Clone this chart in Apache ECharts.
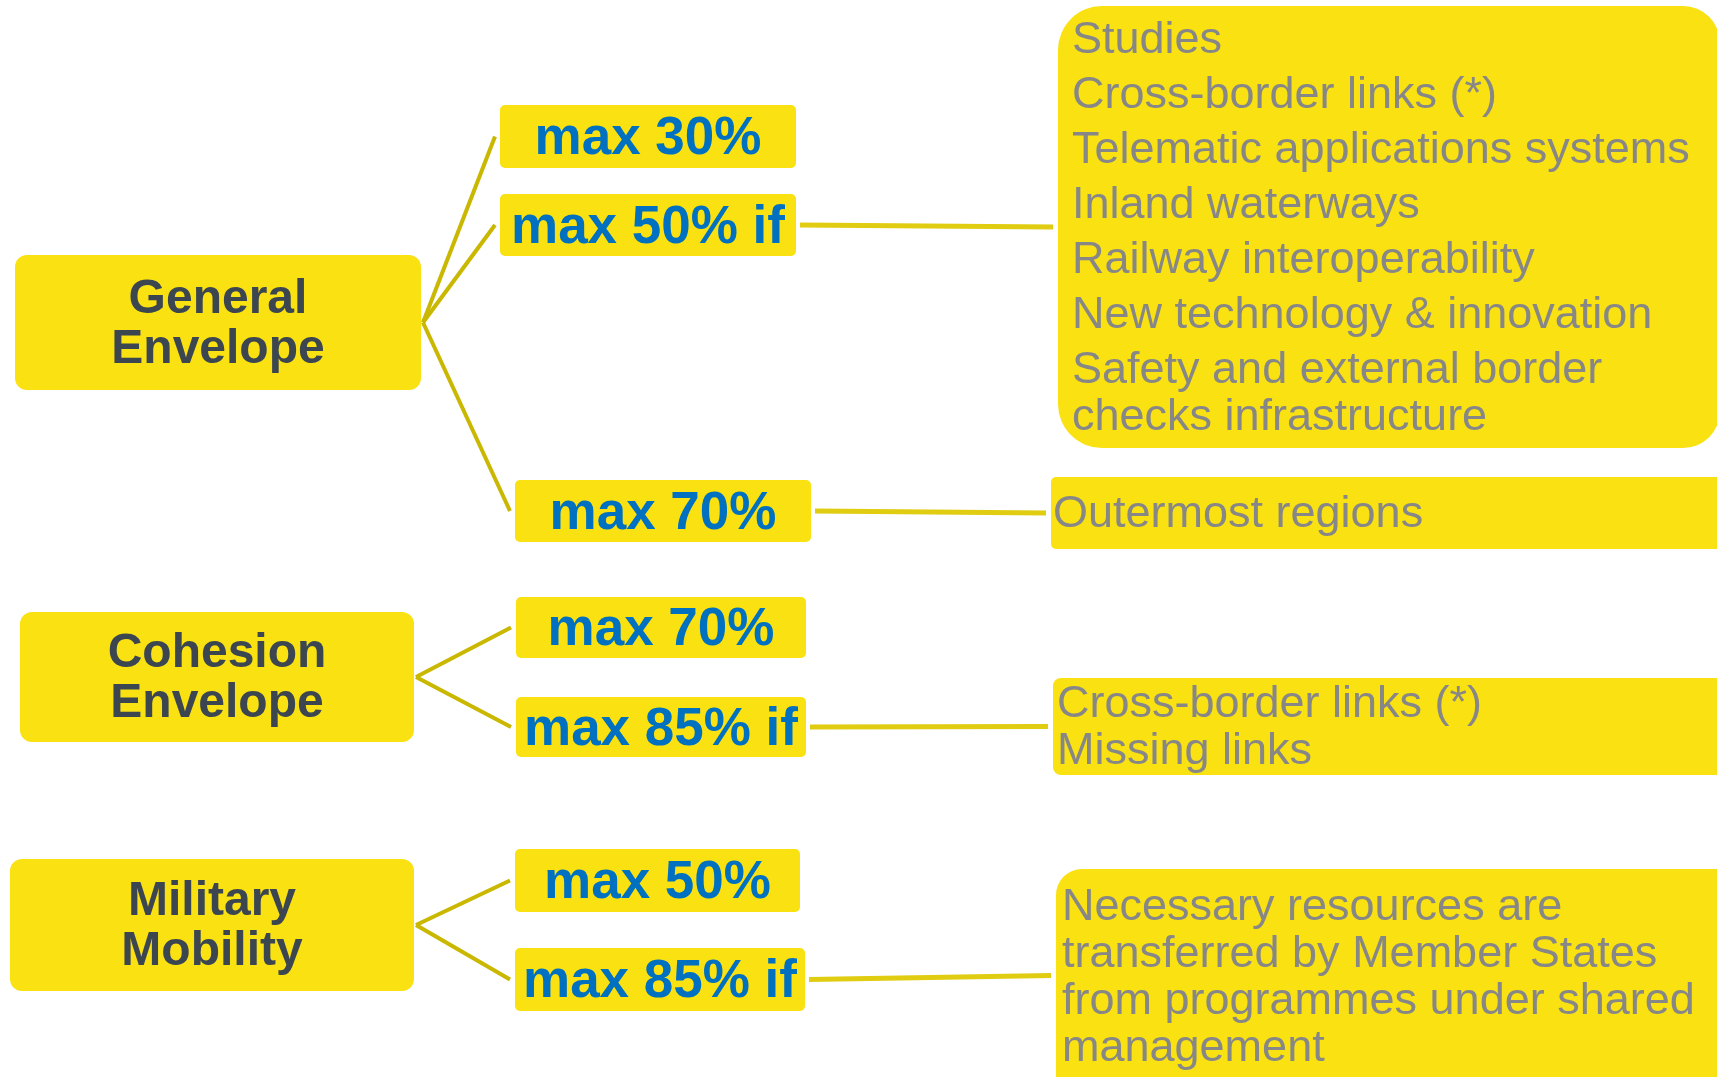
<!DOCTYPE html>
<html>
<head>
<meta charset="utf-8">
<title>Co-financing rates</title>
<script src="https://cdn.jsdelivr.net/npm/echarts@6/dist/echarts.min.js"></script>
<style>
  html, body { margin: 0; padding: 0; background: #ffffff; }
  #chart { width: 1717px; height: 1077px; }
</style>
</head>
<body>
<div id="chart"></div>
<script>
// content
const envelopes = ['General\nEnvelope', 'Cohesion\nEnvelope', 'Military\nMobility']
const rates = ['max 30%', 'max 50% if', 'max 70%', 'max 70%', 'max 85% if', 'max 50%', 'max 85% if']
const rateParent = [0, 0, 0, 1, 1, 2, 2]
const conditions = [
  [
    'Studies',
    'Cross-border links (*)',
    'Telematic applications systems',
    'Inland waterways',
    'Railway interoperability',
    'New technology & innovation',
    'Safety and external border\nchecks infrastructure',
  ],
  ['Outermost regions'],
  ['Cross-border links (*)', 'Missing links'],
  ['Necessary resources are\ntransferred by Member States\nfrom programmes under shared\nmanagement'],
]
const conditionParent = [1, 2, 4, 6]

// layout (page pixels: x, y, width, height)
const envelopeBox = [
  [15, 255, 406, 135],
  [20, 612, 394, 130],
  [10, 859, 404, 132],
]
const rateBox = [
  [500, 105, 296, 63],
  [500, 194, 296, 62],
  [515, 480, 296, 62],
  [516, 597, 290, 61],
  [516, 697, 290, 60],
  [515, 849, 285, 63],
  [515, 948, 290, 63],
]
const conditionBox = [
  [1058, 6, 662, 442],
  [1051, 477, 700, 72],
  [1053, 678, 700, 97],
  [1056, 869, 700, 213],
]
const conditionRadius = [[44, 37, 37, 44], 5, 8, [26, 0, 0, 0]]
const conditionPadLeft = [14, 2, 4, 6]
const conditionFirstLine = [35, 38, 26.5, 39]
const conditionItemGap = [55, 47, 47, 47]
const conditionWrapGap = 47

const YELLOW = '#f9e112'
const FONT = '"Liberation Sans", Arial, Helvetica, sans-serif'

// one list of boxes for the custom series
const nodes = []
envelopes.forEach(function (name, i) {
  nodes.push({ kind: 'envelope', text: name, box: envelopeBox[i], r: 12 })
})
rates.forEach(function (name, i) {
  nodes.push({ kind: 'rate', text: name, box: rateBox[i], r: 5 })
})
conditions.forEach(function (items, i) {
  nodes.push({ kind: 'condition', items: items, box: conditionBox[i], r: conditionRadius[i], idx: i })
})

// connectors derived from the boxes
function rightMid(b) {
  return [b[0] + b[2], b[1] + b[3] / 2]
}
function leftMid(b) {
  return [b[0], b[1] + b[3] / 2]
}
const connectors = []
rateParent.forEach(function (p, i) {
  const a = rightMid(envelopeBox[p])
  const b = leftMid(rateBox[i])
  connectors.push({ value: [a[0] + 2, a[1], b[0] - 5, b[1]], kind: 'branch' })
})
conditionParent.forEach(function (p, i) {
  const a = rightMid(rateBox[p])
  const b = leftMid(conditionBox[i])
  connectors.push({ value: [a[0] + 4, a[1], b[0] - 5, b[1]], kind: 'link' })
})

function renderConnector(params, api) {
  const p0 = api.coord([api.value(0), api.value(1)])
  const p1 = api.coord([api.value(2), api.value(3)])
  const branch = connectors[params.dataIndex].kind === 'branch'
  return {
    type: 'line',
    shape: { x1: p0[0], y1: p0[1], x2: p1[0], y2: p1[1] },
    style: {
      stroke: branch ? '#c9b700' : '#e0cc10',
      lineWidth: branch ? 4 : 5,
      lineCap: 'butt',
    },
  }
}

function textEl(text, x, y, opts) {
  return {
    type: 'text',
    style: {
      text: text,
      x: x,
      y: y,
      fill: opts.color,
      fontSize: opts.size,
      fontWeight: opts.weight,
      fontFamily: FONT,
      align: opts.align,
      verticalAlign: 'middle',
    },
  }
}

function renderBox(params, api) {
  const node = nodes[params.dataIndex]
  const p0 = api.coord([api.value(0), api.value(1)])
  const p1 = api.coord([api.value(0) + api.value(2), api.value(1) + api.value(3)])
  const x = Math.min(p0[0], p1[0])
  const y = Math.min(p0[1], p1[1])
  const w = Math.abs(p1[0] - p0[0])
  const h = Math.abs(p1[1] - p0[1])
  const children = [
    {
      type: 'rect',
      shape: { x: x, y: y, width: w, height: h, r: node.r },
      style: { fill: YELLOW },
    },
  ]

  if (node.kind === 'envelope') {
    const lines = node.text.split('\n')
    const gap = 50
    const top = y + h / 2 + 2 - ((lines.length - 1) * gap) / 2
    lines.forEach(function (line, k) {
      children.push(
        textEl(line, x + w / 2, top + k * gap, { color: '#3c4650', size: 48, weight: 'bold', align: 'center' })
      )
    })
  } else if (node.kind === 'rate') {
    children.push(
      textEl(node.text, x + w / 2, y + h / 2 + 3, { color: '#0070c0', size: 53, weight: 'bold', align: 'center' })
    )
  } else {
    const i = node.idx
    let cy = y + conditionFirstLine[i]
    node.items.forEach(function (item, k) {
      if (k > 0) cy += conditionItemGap[i]
      item.split('\n').forEach(function (line, j) {
        if (j > 0) cy += conditionWrapGap
        children.push(
          textEl(line, x + conditionPadLeft[i], cy, { color: '#878787', size: 45, weight: 'normal', align: 'left' })
        )
      })
    })
  }

  return { type: 'group', children: children }
}

const chart = echarts.init(document.getElementById('chart'), null, { renderer: 'canvas' })

const options = {
  animation: false,
  backgroundColor: '#ffffff',
  grid: { left: 0, right: 0, top: 0, bottom: 0 },
  xAxis: { type: 'value', min: 0, max: 1717, show: false },
  yAxis: { type: 'value', min: 0, max: 1077, inverse: true, show: false },
  series: [
    {
      name: 'connectors',
      type: 'custom',
      z: 1,
      renderItem: renderConnector,
      data: connectors.map(function (c) {
        return c.value
      }),
    },
    {
      name: 'boxes',
      type: 'custom',
      z: 2,
      renderItem: renderBox,
      data: nodes.map(function (n) {
        return n.box
      }),
    },
  ],
}

chart.setOption(options)
</script>
</body>
</html>
